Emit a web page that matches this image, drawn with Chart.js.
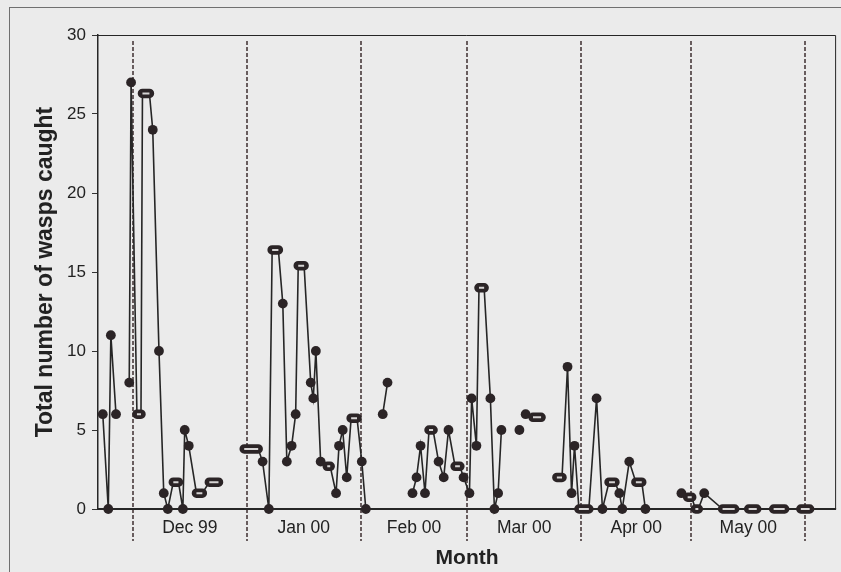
<!DOCTYPE html>
<html lang="en">
<head>
<meta charset="UTF-8" />
<title>Total number of wasps caught per month</title>
<script src="https://cdn.jsdelivr.net/npm/chart.js"></script>
<style>
  body { margin: 0; background: #ebebeb; }
  .frame {
    position: absolute; left: 9px; top: 7px; width: 900px; height: 700px;
    border-left: 1px solid #707070; border-top: 1px solid #707070;
  }
  .chart-container { position: absolute; left: 0; top: 0; width: 841px; height: 572px; }
</style>
</head>
<body>
<div class="frame"></div>
<div class="chart-container"><canvas id="waspChart"></canvas></div>
<script>
// days counted from 1 Dec 1999, null = break in the record
const sampleDay = [
  -8.2, -6.7, -6.0, -4.6, null,
  -1.0, -0.5, 1.1, 2.6, 5.4, 7.1, 8.4, 9.5, 11.0, 13.6, 14.1, 15.2, 17.3, 20.8, null,
  30.3, 35.3, 37.0, 37.9, 40.8, 41.9, 43.2, 44.3, 45.0, 48.4, 49.1, 49.8, 51.1, 52.9, 55.3, 56.1, 57.1, 58.2, 59.4, 62.3, 63.4, null,
  68.0, 69.3, null,
  76.1, 77.2, 78.3, 79.5, 80.6, 83.2, 84.6, 85.9, 87.7, 90.0, 91.6, 92.2, 93.5, 94.2, 97.3, 98.4, 99.4, 100.3, null,
  105.2, null,
  106.9, 108.9, null,
  115.4, 118.3, 119.4, 120.2, 121.4, 126.2, 127.8, 129.6, 132.4, 133.2, 135.1, 136.9, 139.5, null,
  149.3, 151.0, 153.1, 155.5, 160.5, 167.6, 174.4, 181.8
];
// last day of a pooled (multi-day) sample, null for a single-day sample
const sampleEnd = [
  null, null, null, null, null,
  null, null, 2.2, 4.5, null, null, null, null, 12.4, null, null, null, 18.9, 23.3, null,
  34.1, null, null, 39.6, null, null, null, null, 46.6, null, null, null, null, 53.7, null, null, null, null, 61.0, null, null, null,
  null, null, null,
  null, null, null, null, 81.7, null, null, null, 89.0, null, null, null, null, 95.6, null, null, null, null, null,
  null, null,
  null, 111.1, null,
  116.8, null, null, null, 124.1, null, null, 131.2, null, null, null, 138.5, null, null,
  null, 152.1, 153.9, null, 163.8, 169.8, 177.4, 184.2
];
const waspCount = [
  6, 0, 11, 6, null,
  8, 27, 6, 26.3, 24, 10, 1, 0, 1.7, 0, 5, 4, 1, 1.7, null,
  3.8, 3, 0, 16.4, 13, 3, 4, 6, 15.4, 8, 7, 10, 3, 2.7, 1, 4, 5, 2, 5.75, 3, 0, null,
  6, 8, null,
  1, 2, 4, 1, 5, 3, 2, 5, 2.7, 2, 1, 7, 4, 14, 7, 0, 1, 5, null,
  5, null,
  6, 5.8, null,
  2, 9, 1, 4, 0, 7, 0, 1.7, 1, 0, 3, 1.7, 0, null,
  1, 0.75, 0, 1, 0, 0, 0, 0
];

const monthStart = [0, 31, 62, 91, 122, 152, 183];
const monthMid = [15.5, 46.5, 76.5, 106.5, 137, 167.5];
const monthLabels = ['Dec 99', 'Jan 00', 'Feb 00', 'Mar 00', 'Apr 00', 'May 00'];

const ink = '#2b2426';

// build the series
const pathData = [], dotData = [], capData = [];
let lastX = 0;
sampleDay.forEach((d, i) => {
  const y = waspCount[i];
  if (y === null) {
    pathData.push({ x: lastX, y: null });
    return;
  }
  const end = sampleEnd[i];
  pathData.push({ x: d, y: y });
  if (end !== null) {
    pathData.push({ x: end, y: y });
    capData.push({ x: d, y: y }, { x: end, y: y }, { x: end, y: null });
    lastX = end;
  } else {
    dotData.push({ x: d, y: y });
    lastX = d;
  }
});

const framePlugin = {
  id: 'frame',
  beforeDatasetsDraw(chart) {
    const { ctx, chartArea: a, scales: { x } } = chart;
    ctx.save();
    ctx.strokeStyle = '#3e2f31';
    ctx.lineWidth = 1.5;
    ctx.setLineDash([4, 2]);
    monthStart.forEach(m => {
      const px = Math.round(x.getPixelForValue(m));
      ctx.beginPath();
      ctx.moveTo(px, a.top + 6);
      ctx.lineTo(px, a.bottom + 32);
      ctx.stroke();
    });
    ctx.setLineDash([]);
    ctx.strokeStyle = '#262626';
    ctx.lineWidth = 1;
    ctx.beginPath();
    ctx.moveTo(a.left, a.top + 0.5);
    ctx.lineTo(a.right - 0.5, a.top + 0.5);
    ctx.lineTo(a.right - 0.5, a.bottom);
    ctx.stroke();
    ctx.lineWidth = 2;
    ctx.beginPath();
    ctx.moveTo(a.left, a.bottom);
    ctx.lineTo(a.right, a.bottom);
    ctx.stroke();
    ctx.restore();
  }
};

new Chart(document.getElementById('waspChart'), {
  type: 'line',
  data: {
    datasets: [
      {
        data: capData, order: 1, clip: false,
        borderColor: '#d6d4d4', borderWidth: 2, borderCapStyle: 'butt',
        pointRadius: 0, pointHoverRadius: 0
      },
      {
        data: capData, order: 2, clip: false,
        borderColor: ink, borderWidth: 9.5, borderCapStyle: 'round',
        pointRadius: 0, pointHoverRadius: 0
      },
      {
        type: 'scatter', data: dotData, order: 3, clip: false,
        backgroundColor: ink, borderColor: ink, borderWidth: 0,
        pointRadius: 4.9, pointHoverRadius: 4.9
      },
      {
        data: pathData, order: 4, clip: false,
        borderColor: '#262626', borderWidth: 1.6,
        pointRadius: 0, pointHoverRadius: 0, spanGaps: false
      }
    ]
  },
  options: {
    responsive: true,
    maintainAspectRatio: false,
    animation: false,
    events: [],
    layout: { padding: { left: 0, top: 35, right: 4, bottom: 0 } },
    plugins: { legend: { display: false }, tooltip: { enabled: false } },
    scales: {
      x: {
        type: 'linear',
        min: -9.5,
        max: 191.4,
        afterBuildTicks: scale => { scale.ticks = monthMid.map(v => ({ value: v })); },
        afterFit: scale => { scale.height = 63; },
        grid: { display: false, drawTicks: false },
        border: { display: false },
        ticks: {
          autoSkip: false, maxRotation: 0, padding: 9,
          color: '#222', font: { family: 'Liberation Sans, Arial', size: 17.5 },
          callback: (v, i) => monthLabels[i]
        },
        title: {
          display: true, text: 'Month', color: '#222',
          font: { family: 'Liberation Sans, Arial', size: 21, weight: 'bold' },
          padding: { top: 0, bottom: 1 }
        }
      },
      y: {
        min: 0,
        max: 30,
        afterFit: scale => { scale.width = 98; },
        grid: { drawOnChartArea: false, drawTicks: true, tickLength: 6, color: '#333', lineWidth: 1 },
        border: { display: true, color: '#262626', width: 1.5 },
        ticks: {
          stepSize: 5, padding: 6,
          color: '#222', font: { family: 'Liberation Sans, Arial', size: 17 }
        },
        title: {
          display: true, text: 'Total number of wasps caught', color: '#222',
          font: { family: 'Liberation Sans, Arial', size: 23, weight: 'bold' },
          padding: { top: 32, bottom: 0 }
        }
      }
    }
  },
  plugins: [framePlugin]
});
</script>
</body>
</html>
